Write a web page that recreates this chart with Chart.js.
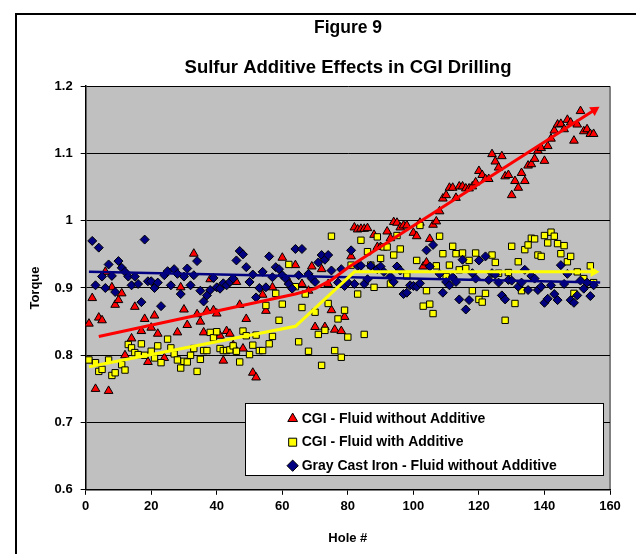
<!DOCTYPE html>
<html>
<head>
<meta charset="utf-8">
<script src="https://cdn.jsdelivr.net/npm/chart.js@4.4.1/dist/chart.umd.min.js"></script>
<style>
html,body{margin:0;padding:0;background:#fff;}
#wrap{position:relative;width:636px;height:554px;}
</style>
</head>
<body>
<div id="wrap"><canvas id="c" width="636" height="554"></canvas></div>
<script>
// ---------- data ----------
const chartTitle = "Figure 9";
const chartSubtitle = "Sulfur Additive Effects in CGI Drilling";
const xAxisTitle = "Hole #";
const yAxisTitle = "Torque";
const seriesNames = ["CGI - Fluid without Additive", "CGI - Fluid with Additive", "Gray Cast Iron - Fluid without Additive"];
const xTicks = [0, 20, 40, 60, 80, 100, 120, 140, 160];
const yTicks = [0.6, 0.7, 0.8, 0.9, 1.0, 1.1, 1.2];

// CGI - Fluid without Additive (red triangles)
const redHoles = [1,2,3,4,5,6,7,8,9,10,11,12,14,15,17,18,19,20,21,22,24,28,29,30,31,33,34,35,36,37,38,39,40,41,42,43,44,45,46,47,48,49,51,52,54,55,57,60,62,64,66,68,69,70,72,73,74,75,76,78,79,81,82,83,84,85,86,88,89,90,92,93,94,95,96,97,98,100,101,102,103,104,105,106,107,108,109,110,111,112,113,114,115,116,117,118,119,120,121,122,123,124,125,126,127,128,129,130,131,132,133,134,135,136,137,138,139,140,141,142,143,144,145,146,147,148,149,150,151,152,153,154,155];
const redTorque = [0.847,0.885,0.750,0.856,0.852,0.924,0.747,0.901,0.875,0.882,0.892,0.800,0.825,0.872,0.836,0.854,0.790,0.841,0.859,0.832,0.796,0.834,0.901,0.868,0.845,0.951,0.861,0.850,0.834,0.866,0.913,0.867,0.862,0.829,0.792,0.836,0.832,0.815,0.909,0.875,0.810,0.854,0.774,0.767,0.890,0.866,0.901,0.945,0.909,0.934,0.906,0.896,0.932,0.842,0.928,0.842,0.906,0.867,0.838,0.836,0.857,0.947,0.990,0.987,0.988,0.988,0.989,0.979,0.961,0.961,0.984,0.974,0.998,0.997,0.990,0.993,0.993,0.982,0.977,0.997,0.932,0.938,0.973,0.994,0.999,1.014,1.033,1.038,1.049,1.049,1.034,1.051,1.051,1.048,1.048,1.051,1.057,1.074,1.068,1.062,1.062,1.099,1.088,1.079,1.096,1.066,1.068,1.038,1.059,1.049,1.071,1.059,1.082,1.084,1.092,1.104,1.108,1.089,1.111,1.122,1.134,1.143,1.144,1.136,1.150,1.146,1.119,1.143,1.163,1.133,1.136,1.129,1.129];

// CGI - Fluid with Additive (yellow squares)
const yellowHoles = [1,3,4,5,7,8,9,11,12,13,14,15,16,17,18,20,21,22,23,25,26,27,28,29,30,31,32,33,34,35,36,37,38,39,40,41,42,43,44,45,46,47,48,49,50,51,52,53,54,55,56,57,58,59,60,62,64,65,66,67,68,70,71,72,73,74,75,76,77,78,79,80,81,83,84,85,86,87,88,89,90,91,92,93,94,95,96,98,101,102,103,104,105,106,107,108,109,110,111,112,113,114,115,116,117,118,119,120,121,122,124,125,126,128,129,130,131,132,133,134,135,136,137,138,139,140,141,142,143,144,145,146,147,148,149,150,152,154,155];
const yellowTorque = [0.793,0.789,0.776,0.779,0.793,0.770,0.774,0.786,0.778,0.816,0.811,0.804,0.801,0.817,0.800,0.806,0.796,0.814,0.789,0.824,0.811,0.802,0.793,0.781,0.791,0.790,0.800,0.810,0.776,0.794,0.807,0.807,0.834,0.826,0.835,0.810,0.807,0.807,0.808,0.814,0.806,0.790,0.836,0.829,0.801,0.815,0.830,0.807,0.807,0.874,0.817,0.828,0.892,0.852,0.876,0.935,0.902,0.820,0.871,0.891,0.806,0.864,0.831,0.785,0.837,0.877,0.977,0.807,0.854,0.797,0.867,0.827,0.934,0.891,0.971,0.831,0.954,0.934,0.901,0.976,0.944,0.961,0.961,0.906,0.949,0.978,0.958,0.918,0.941,0.993,0.873,0.896,0.876,0.862,0.933,0.977,0.951,0.917,0.934,0.962,0.951,0.927,0.952,0.929,0.941,0.896,0.952,0.883,0.879,0.892,0.949,0.938,0.922,0.852,0.923,0.962,0.877,0.939,0.896,0.957,0.964,0.974,0.973,0.949,0.947,0.978,0.967,0.983,0.977,0.966,0.951,0.963,0.939,0.947,0.892,0.924,0.914,0.933,0.908];

// Gray Cast Iron - Fluid without Additive (navy diamonds)
const navyHoles = [2,3,4,5,6,7,8,9,10,11,12,13,14,15,16,17,18,19,20,21,22,23,24,25,26,27,28,29,30,31,32,33,34,35,36,37,38,39,40,41,42,43,44,45,46,47,48,49,50,51,52,53,54,55,56,57,58,59,60,61,62,63,64,65,66,68,69,70,71,72,73,74,75,77,78,79,80,81,82,83,84,85,86,87,89,90,91,93,94,95,96,97,98,99,100,101,102,104,105,106,108,109,110,111,112,113,114,115,116,117,118,119,120,122,123,124,125,126,127,128,129,130,132,133,134,135,136,137,138,139,140,141,142,143,144,145,146,147,148,149,150,151,152,153,154,155];
const navyTorque = [0.970,0.904,0.960,0.917,0.900,0.935,0.918,0.894,0.940,0.930,0.924,0.917,0.904,0.917,0.906,0.879,0.972,0.910,0.910,0.900,0.908,0.873,0.919,0.925,0.904,0.928,0.921,0.891,0.917,0.929,0.904,0.919,0.940,0.896,0.880,0.889,0.897,0.915,0.901,0.899,0.907,0.904,0.909,0.914,0.941,0.955,0.950,0.931,0.909,0.920,0.886,0.900,0.924,0.901,0.947,0.916,0.931,0.928,0.919,0.914,0.906,0.899,0.958,0.919,0.958,0.921,0.914,0.909,0.938,0.949,0.942,0.949,0.926,0.908,0.928,0.903,0.908,0.956,0.906,0.933,0.933,0.906,0.913,0.933,0.928,0.932,0.924,0.917,0.909,0.932,0.926,0.891,0.893,0.904,0.903,0.902,0.907,0.956,0.932,0.964,0.921,0.893,0.909,0.904,0.916,0.909,0.883,0.942,0.868,0.882,0.922,0.914,0.941,0.947,0.912,0.922,0.920,0.908,0.889,0.883,0.912,0.911,0.902,0.908,0.927,0.897,0.918,0.914,0.897,0.902,0.878,0.884,0.904,0.891,0.882,0.934,0.906,0.921,0.882,0.878,0.889,0.911,0.899,0.908,0.888,0.904];

// hand-drawn trend lines
const redTrendHoles = [4, 64, 70, 75, 80, 155.25];
const redTrendTorque = [0.828, 0.891, 0.899, 0.912, 0.930, 1.1647];
const yellowTrendHoles = [1, 64, 82, 155.0];
const yellowTrendTorque = [0.783, 0.843, 0.924, 0.924];
const navyTrendHoles = [1, 157];
const navyTrendTorque = [0.924, 0.908];

// ---------- helpers ----------
const FONT = "'Liberation Sans', Arial, Helvetica, sans-serif";
function pts(h, t) { return h.map((x, i) => ({ x: x, y: t[i] })); }
function isLast(ctx) { return ctx.dataIndex === ctx.dataset.data.length - 1; }
function arrowRotation(ctx) {
  const d = ctx.dataset.data, i = ctx.dataIndex;
  if (!d || i == null || i < 1 || !ctx.chart.scales.x) return 0;
  const sx = ctx.chart.scales.x, sy = ctx.chart.scales.y;
  const dx = sx.getPixelForValue(d[i].x) - sx.getPixelForValue(d[i - 1].x);
  const dy = sy.getPixelForValue(d[i].y) - sy.getPixelForValue(d[i - 1].y);
  return Math.atan2(dy, dx) * 180 / Math.PI + 90;
}

const FRAME_LEFT = 16, FRAME_TOP = 14, FRAME_W = 664;

const framePlugin = {
  id: 'frame',
  afterInit(chart) {
    const lg = chart.legend;
    if (!lg) return;
    const orig = lg.draw.bind(lg);
    lg.draw = function (ca) {
      const a = chart.chartArea, c = chart.ctx;
      c.save();
      c.fillStyle = '#fff';
      c.strokeStyle = '#000';
      c.lineWidth = 1;
      const bx = Math.round(a.left + 159) + 0.5, by = Math.round(a.top + 317) + 0.5;
      c.fillRect(bx, by, 358, 72);
      c.strokeRect(bx, by, 358, 72);
      c.restore();
      orig(ca);
    };
  },
  afterLayout(chart) {
    const lg = chart.legend, a = chart.chartArea;
    // titles are centred on the (wider, cropped) outer frame
    chart.boxes.forEach((b) => {
      if (b.options && (b.options.text === chartTitle || b.options.text === chartSubtitle)) {
        b.left = FRAME_LEFT;
        b.right = FRAME_LEFT + FRAME_W;
        b.width = FRAME_W;
      }
    });
    if (!lg) return;
    lg.left = a.left + 195.5;
    lg.top = a.top + 316;
    lg.right = lg.left + 330;
    lg.bottom = lg.top + 100;
  },
  beforeDraw(chart) {
    const c = chart.ctx, a = chart.chartArea;
    c.save();
    c.fillStyle = '#fff';
    c.fillRect(0, 0, chart.width, chart.height);
    c.strokeStyle = '#000';
    c.lineWidth = 2;
    c.strokeRect(FRAME_LEFT, FRAME_TOP, FRAME_W, chart.height + 40);
    c.fillStyle = '#C0C0C0';
    c.fillRect(a.left, a.top, a.right - a.left, a.bottom - a.top);
    c.strokeStyle = '#808080';
    c.lineWidth = 2;
    c.beginPath();
    c.moveTo(a.right, a.top);
    c.lineTo(a.right, a.bottom);
    c.stroke();
    c.restore();
  }
};

const markerR = 4.5;
const data = {
  datasets: [
    { label: seriesNames[0], data: pts(redHoles, redTorque), pointStyle: 'triangle', pointRadius: markerR + 0.5,
      backgroundColor: '#FF0000', borderColor: '#000', borderWidth: 1, order: 3 },
    { label: seriesNames[1], data: pts(yellowHoles, yellowTorque), pointStyle: 'rect', pointRadius: markerR,
      backgroundColor: '#FFFF00', borderColor: '#000', borderWidth: 1, order: 2 },
    { label: seriesNames[2], data: pts(navyHoles, navyTorque), pointStyle: 'rectRot', pointRadius: markerR,
      backgroundColor: '#000080', borderColor: '#000', borderWidth: 1, order: 1 },
    { label: 'trend-red', data: pts(redTrendHoles, redTrendTorque), showLine: true, borderColor: '#FF0000', borderWidth: 3,
      pointStyle: 'triangle', pointRadius: (ctx) => isLast(ctx) ? 6 : 0, pointRotation: arrowRotation,
      pointBackgroundColor: '#FF0000', pointBorderColor: '#FF0000', pointBorderWidth: 0, order: 0 },
    { label: 'trend-yellow', data: pts(yellowTrendHoles, yellowTrendTorque), showLine: true, borderColor: '#FFFF00', borderWidth: 3,
      pointStyle: 'triangle', pointRadius: (ctx) => isLast(ctx) ? 6 : 0, pointRotation: arrowRotation,
      pointBackgroundColor: '#FFFF00', pointBorderColor: '#FFFF00', pointBorderWidth: 0, order: 0 },
    { label: 'trend-navy', data: pts(navyTrendHoles, navyTrendTorque), showLine: true, borderColor: '#000080', borderWidth: 2.5,
      pointRadius: 0, order: 0 }
  ]
};

new Chart(document.getElementById('c'), {
  type: 'scatter',
  data: data,
  plugins: [framePlugin],
  options: {
    responsive: false,
    devicePixelRatio: 1,
    animation: false,
    layout: { padding: { left: 28, right: 26, top: 8, bottom: 8 } },
    plugins: {
      tooltip: { enabled: false },
      title: { display: true, text: chartTitle, color: '#000', font: { family: FONT, size: 17.5, weight: 'bold' }, padding: { top: 10, bottom: 10 } },
      subtitle: { display: true, text: chartSubtitle, color: '#000', font: { family: FONT, size: 18.5, weight: 'bold' }, padding: { top: 8, bottom: 7 } },
      legend: {
        position: 'chartArea', align: 'start',
        labels: {
          usePointStyle: true, boxWidth: 4, boxHeight: 8, padding: 9.5, color: '#000',
          font: { family: FONT, size: 14, weight: 'bold' },
          filter: (item) => item.datasetIndex < 3,
          sort: (a, b) => a.datasetIndex - b.datasetIndex
        }
      }
    },
    scales: {
      x: {
        type: 'linear', min: 0, max: 160,
        afterBuildTicks: (s) => { s.ticks = xTicks.map(v => ({ value: v })); },
        ticks: { color: '#000', font: { family: FONT, size: 13, weight: 'bold' }, padding: 4, maxRotation: 0 },
        grid: { drawOnChartArea: false, drawTicks: true, tickLength: 5, color: '#000' },
        border: { color: '#000', width: 1.5 },
        title: { display: true, text: xAxisTitle, color: '#000', font: { family: FONT, size: 13, weight: 'bold' }, padding: { top: 12, bottom: 0 } }
      },
      y: {
        type: 'linear', min: 0.6, max: 1.2,
        afterBuildTicks: (s) => { s.ticks = yTicks.map(v => ({ value: v })); },
        ticks: { color: '#000', font: { family: FONT, size: 13, weight: 'bold' }, padding: 8,
          callback: (v) => String(Number(Number(v).toFixed(1))) },
        grid: { color: '#000', lineWidth: 1, tickLength: 5 },
        border: { color: '#000', width: 1.5 },
        title: { display: true, text: yAxisTitle, color: '#000', font: { family: FONT, size: 13, weight: 'bold' }, padding: { top: 0, bottom: 3 } }
      }
    }
  }
});
</script>
</body>
</html>
